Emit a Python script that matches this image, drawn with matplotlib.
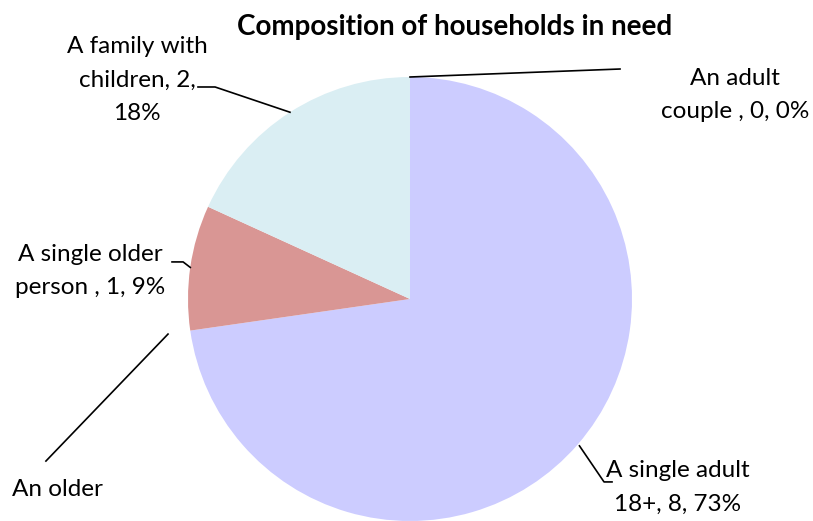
import textwrap
import numpy as np
import matplotlib
matplotlib.use("Agg")
import matplotlib.pyplot as plt

# Data
categories = ["A single adult 18+", "An older couple ", "A single older person ",
              "A family with children", "An adult couple "]
counts = [8, 0, 1, 2, 0]
colours = ["#CCCCFF", "#FFFFFF", "#D99694", "#DAEEF3", "#FFFFFF"]

# label layout (data units, pie radius = 1)
label_pos = [(1.207, -0.85), (-1.793, -0.86), (-1.44, 0.126), (-1.23, 0.986), (1.464, 0.919)]
wrap_width = [14, 8, 14, 13, 14]

plt.rcParams["font.family"] = ["Lato", "DejaVu Sans"]

fig = plt.figure(figsize=(8.13, 5.21), dpi=100)
ax = fig.add_axes([0, 0, 1, 1])

total = sum(counts)
wedges, _ = ax.pie(counts, colors=colours, startangle=90, counterclock=False,
                   radius=1, wedgeprops=dict(linewidth=0))

ax.set_xlim(-410 / 222, (813 - 410) / 222)
ax.set_ylim(-222 / 222, 299 / 222)
ax.set_aspect("auto")
ax.axis("off")

line_kw = dict(color="black", lw=1.2)
for i, (name, v) in enumerate(zip(categories, counts)):
    pct = round(100 * v / total)
    w = wedges[i]
    mid = np.deg2rad((w.theta1 + w.theta2) / 2)
    ex, ey = np.cos(mid), np.sin(mid)
    lx, ly = label_pos[i]
    txt = textwrap.fill(f"{name}, {v}, {pct}%", wrap_width[i])
    if i == 1:
        # only the first line fits on the chart
        ax.text(lx, ly, txt.split("\n")[0], ha="left", va="center", fontsize=17.5)
        ax.plot([-1.09, -1.64], [-0.158, -0.73], **line_kw)
        continue
    ax.text(lx, ly, txt, ha="center", va="center", fontsize=17.5, linespacing=1.75)
    if i == 0:
        ax.plot([ex * 1.01, 0.874, 0.91], [ey * 1.01, -0.824, -0.824], **line_kw)
    elif i == 2:
        ax.plot([ex, -1.022, -1.072], [ey, 0.167, 0.167], **line_kw)
    elif i == 3:
        ax.plot([ex, -0.878, -0.955], [ey, 0.955, 0.955], **line_kw)
    else:
        ax.plot([ex, 0.946], [ey, 1.036], **line_kw)

fig.text(455 / 813, 1 - 27 / 521, "Composition of households in need",
         fontsize=20, fontweight="bold", ha="center", va="center")

fig.savefig("out.png", dpi=100)
